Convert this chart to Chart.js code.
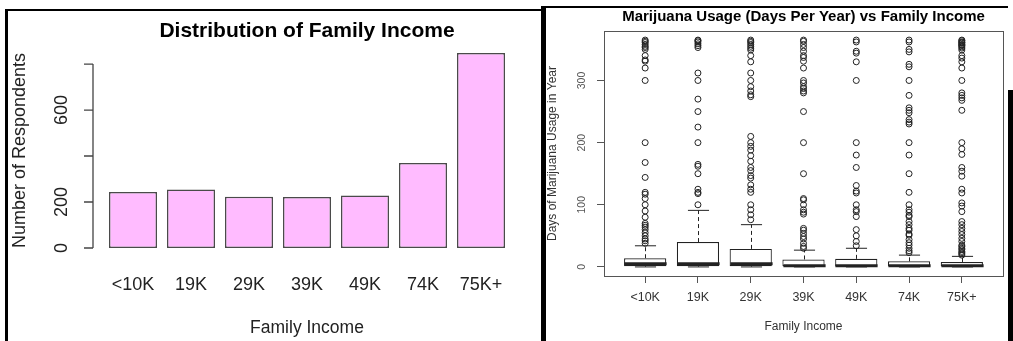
<!DOCTYPE html>
<html>
<head>
<meta charset="utf-8">
<script src="https://cdn.jsdelivr.net/npm/chart.js@4.4.1/dist/chart.umd.min.js"></script>
<style>
  html, body { margin: 0; padding: 0; background: #fff; }
  body { width: 1013px; height: 341px; position: relative; overflow: hidden; }
  .panel { position: absolute; }
  .rule { position: absolute; background: #000; }
</style>
</head>
<body>
<div class="rule" style="left:5px; top:9px; width:538px; height:2px;"></div>
<div class="rule" style="left:5px; top:9px; width:3px; height:332px;"></div>
<div class="rule" style="left:541px; top:6px; width:5px; height:335px;"></div>
<div class="rule" style="left:546px; top:6px; width:462px; height:2px;"></div>
<div class="rule" style="left:1008px; top:90px; width:5px; height:251px;"></div>

<div class="panel" style="left:8px; top:11px; width:533px; height:330px;"><canvas id="incomeChart"></canvas></div>
<div class="panel" style="left:547px; top:8px; width:461px; height:333px;"><canvas id="usageChart"></canvas></div>

<script>
// Income brackets shared by both charts
const incomeGroups = ['<10K', '19K', '29K', '39K', '49K', '74K', '75K+'];

// Respondents per income bracket
const respondentCounts = [243, 254, 223, 222, 228, 370, 848];
const countTicks = [0, 200, 400, 600, 800];
const countTickLabels = ['0', '200', '', '600', ''];

// Days of marijuana use per year: box statistics per bracket
const usageTicks = [0, 100, 200, 300];
const usageLowerWhisker = [0, 0, 0, 0, 0, 0, 0];
const usageQ1 = [1, 1, 1, 1, 1, 1, 1];
const usageMedian = [5, 5, 5, 2, 2, 2, 2];
const usageQ3 = [14, 40, 29, 12, 13, 9, 8];
const usageUpperWhisker = [34, 91, 68, 27, 30, 19, 17];

// Outlying responses per bracket
const outliersUnder10K = [365, 363, 361, 358, 355, 353, 350, 340, 333, 331, 320, 300, 200, 168, 144, 120, 117, 110, 100, 90, 80, 70, 67, 64, 60, 55, 50, 45, 42, 38];
const outliers19K = [365, 364, 362, 359, 356, 353, 312, 300, 270, 250, 225, 200, 165, 162, 150, 125, 120, 118, 100];
const outliers29K = [365, 363, 361, 358, 355, 352, 349, 340, 330, 312, 300, 290, 283, 277, 274, 210, 200, 194, 188, 179, 170, 160, 155, 147, 143, 132, 125, 120, 100, 92, 84, 76];
const outliers39K = [365, 363, 358, 353, 347, 340, 337, 331, 320, 300, 296, 290, 287, 283, 280, 250, 200, 150, 110, 108, 100, 92, 88, 85, 62, 59, 54, 49, 45, 38, 33, 30];
const outliers49K = [365, 362, 347, 344, 330, 300, 200, 180, 160, 131, 122, 119, 100, 92, 89, 81, 60, 50, 41, 34];
const outliers74K = [365, 362, 350, 346, 326, 322, 300, 276, 256, 252, 248, 237, 233, 230, 200, 180, 150, 120, 100, 92, 88, 83, 81, 73, 68, 62, 59, 53, 51, 44, 39, 35, 30, 26, 23];
const outliers75KPlus = [365, 364, 362, 361, 360, 358, 357, 356, 354, 352, 349, 340, 336, 330, 320, 300, 280, 276, 272, 268, 252, 200, 190, 181, 160, 154, 146, 125, 119, 103, 98, 89, 73, 68, 62, 57, 52, 46, 41, 35, 33, 30, 28, 25, 23, 21, 19];
const usageOutliers = [outliersUnder10K, outliers19K, outliers29K, outliers39K, outliers49K, outliers74K, outliers75KPlus];

const FONT = "'Liberation Sans', Arial, Helvetica, sans-serif";
Chart.defaults.font.family = FONT;
Chart.defaults.color = '#222';
Chart.defaults.animation = false;
Chart.defaults.plugins.legend.display = false;
Chart.defaults.plugins.tooltip.enabled = false;

// Left-hand value axis of the bar chart, set slightly apart from the bars
const countAxis = {
  id: 'countAxis',
  afterDraw(chart) {
    const ys = chart.scales.y;
    const ctx = chart.ctx;
    const ax = chart.chartArea.left - 11;
    ctx.save();
    ctx.strokeStyle = '#444';
    ctx.lineWidth = 1.3;
    ctx.beginPath();
    ctx.moveTo(ax, ys.getPixelForValue(countTicks[0]));
    ctx.lineTo(ax, ys.getPixelForValue(countTicks[countTicks.length - 1]));
    countTicks.forEach(v => {
      const py = ys.getPixelForValue(v);
      ctx.moveTo(ax, py);
      ctx.lineTo(ax - 9, py);
    });
    ctx.stroke();
    ctx.restore();
  }
};

new Chart(document.getElementById('incomeChart'), {
  type: 'bar',
  data: {
    labels: incomeGroups,
    datasets: [{
      data: respondentCounts,
      backgroundColor: '#FFBBFF',
      borderColor: '#4a4a4a',
      borderWidth: 1.5,
      borderSkipped: false,
      barPercentage: 0.8276,
      categoryPercentage: 1
    }]
  },
  options: {
    responsive: true,
    maintainAspectRatio: false,
    layout: { padding: { left: 0, right: 31, top: 0, bottom: 0 } },
    plugins: {
      title: {
        display: true,
        text: 'Distribution of Family Income',
        fullSize: false,
        color: '#000',
        font: { size: 21, weight: 'bold' },
        padding: { top: 7.4, bottom: 1.6 }
      }
    },
    scales: {
      x: {
        grid: { display: false, drawTicks: false },
        border: { display: false },
        ticks: { font: { size: 18 }, padding: 18.4, autoSkip: false, maxRotation: 0 },
        title: { display: true, text: 'Family Income', font: { size: 17.5 }, padding: { top: 0, bottom: 2.5 } },
        afterFit(s) { s.height = 85.2; s.paddingLeft = 0; s.paddingRight = 0; }
      },
      y: {
        min: -33.9,
        max: 881.9,
        afterBuildTicks(s) { s.ticks = countTicks.map(v => ({ value: v })); },
        grid: { display: false, drawTicks: false },
        border: { display: false },
        ticks: {
          font: { size: 18 },
          minRotation: 90,
          maxRotation: 90,
          autoSkip: false,
          crossAlign: 'center',
          padding: 27,
          callback: v => countTickLabels[countTicks.indexOf(v)] ?? ''
        },
        title: { display: true, text: 'Number of Respondents', font: { size: 18 }, padding: { top: 1.2, bottom: 0 } },
        afterFit(s) { s.width = 96; s.paddingTop = 0; s.paddingBottom = 0; }
      }
    }
  },
  plugins: [countAxis]
});

// Whiskers, caps, medians and the frame of the box plot
const boxDetails = {
  id: 'boxDetails',
  afterDatasetsDraw(chart) {
    const xs = chart.scales.x, ys = chart.scales.y, ctx = chart.ctx;
    const unit = xs.getPixelForValue(2) - xs.getPixelForValue(1);
    const boxHalf = unit * 0.4;
    const capHalf = boxHalf * 0.5;
    ctx.save();
    ctx.strokeStyle = '#222';
    incomeGroups.forEach((g, i) => {
      const cx = Math.round(xs.getPixelForValue(i + 1)) + 0.5;
      const yQ1 = ys.getPixelForValue(usageQ1[i]);
      const yQ3 = ys.getPixelForValue(usageQ3[i]);
      const yLo = ys.getPixelForValue(usageLowerWhisker[i]);
      const yHi = ys.getPixelForValue(usageUpperWhisker[i]);
      const yMed = ys.getPixelForValue(usageMedian[i]);
      ctx.lineWidth = 1;
      ctx.setLineDash([4, 3]);
      ctx.beginPath();
      ctx.moveTo(cx, yQ3); ctx.lineTo(cx, yHi);
      ctx.moveTo(cx, yQ1); ctx.lineTo(cx, yLo);
      ctx.stroke();
      ctx.setLineDash([]);
      ctx.beginPath();
      ctx.moveTo(cx - capHalf, yHi); ctx.lineTo(cx + capHalf, yHi);
      ctx.moveTo(cx - capHalf, yLo); ctx.lineTo(cx + capHalf, yLo);
      ctx.stroke();
      ctx.lineWidth = 3;
      ctx.beginPath();
      ctx.moveTo(cx - boxHalf, yMed); ctx.lineTo(cx + boxHalf, yMed);
      ctx.stroke();
    });
    const a = chart.chartArea;
    ctx.strokeStyle = '#555';
    ctx.lineWidth = 1;
    ctx.strokeRect(Math.round(a.left) + 0.5, Math.round(a.top) + 0.5, Math.round(a.right - a.left), Math.round(a.bottom - a.top));
    ctx.restore();
  }
};

const boxData = incomeGroups.map((g, i) => ({ x: i + 1, y: [usageQ1[i], usageQ3[i]] }));
const outlierData = [];
usageOutliers.forEach((list, i) => list.forEach(v => outlierData.push({ x: i + 1, y: v })));

new Chart(document.getElementById('usageChart'), {
  type: 'bar',
  data: {
    datasets: [{
      type: 'bar',
      data: boxData,
      backgroundColor: '#fff',
      borderColor: '#222',
      borderWidth: 1.2,
      borderSkipped: false,
      barPercentage: 0.8,
      categoryPercentage: 1
    }, {
      type: 'scatter',
      data: outlierData,
      pointStyle: 'circle',
      pointRadius: 3,
      borderWidth: 1,
      borderColor: '#222',
      backgroundColor: 'rgba(0,0,0,0)'
    }]
  },
  options: {
    responsive: true,
    maintainAspectRatio: false,
    layout: { padding: { left: 0, right: 5, top: 0, bottom: 0 } },
    plugins: {
      title: {
        display: true,
        text: 'Marijuana Usage (Days Per Year) vs Family Income',
        fullSize: false,
        color: '#000',
        font: { size: 15, weight: 'bold' },
        padding: { top: 0, bottom: 5 }
      }
    },
    scales: {
      x: {
        type: 'linear',
        offset: false,
        min: 0.22,
        max: 7.78,
        afterBuildTicks(s) { s.ticks = incomeGroups.map((g, i) => ({ value: i + 1 })); },
        grid: { offset: false, drawOnChartArea: false, drawTicks: true, tickLength: 7, color: '#555' },
        border: { display: false },
        ticks: { font: { size: 12.5 }, color: '#333', padding: 7.5, autoSkip: false, maxRotation: 0, callback: v => incomeGroups[v - 1] },
        title: { display: true, text: 'Family Income', color: '#333', font: { size: 12 }, padding: { top: 0, bottom: 6.8 } },
        afterFit(s) { s.height = 65; }
      },
      y: {
        min: -14.6,
        max: 379.6,
        afterBuildTicks(s) { s.ticks = usageTicks.map(v => ({ value: v })); },
        grid: { drawOnChartArea: false, drawTicks: true, tickLength: 7, color: '#555' },
        border: { display: false },
        ticks: { font: { size: 10.5 }, color: '#555', minRotation: 90, maxRotation: 90, autoSkip: false, crossAlign: 'center', padding: 6.25 },
        title: { display: true, text: 'Days of Marijuana Usage in Year', color: '#333', font: { size: 12, lineHeight: 1 }, padding: { top: 0, bottom: 0 } },
        afterFit(s) { s.width = 57; }
      }
    }
  },
  plugins: [boxDetails]
});
</script>
</body>
</html>
